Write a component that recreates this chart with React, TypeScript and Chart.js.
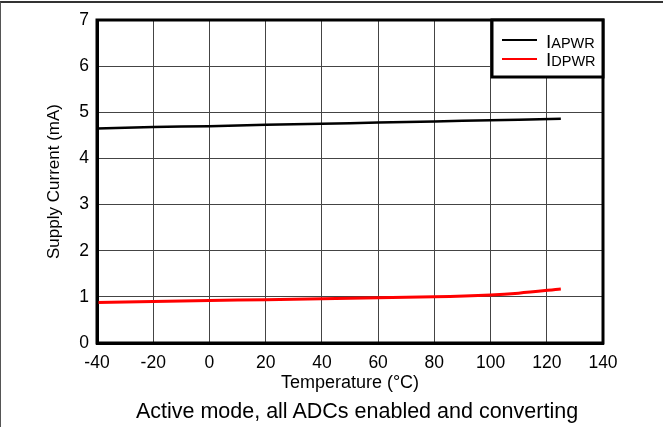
import React, { useEffect, useRef } from "react";
import { Chart, registerables } from "chart.js";

Chart.register(...registerables);

const temperatures = [-40, -20, 0, 20, 40, 60, 80, 100, 110, 125];
const iApwr = [4.65, 4.68, 4.7, 4.73, 4.75, 4.78, 4.8, 4.83, 4.84, 4.86];
const iDpwr = [0.88, 0.9, 0.92, 0.94, 0.96, 0.98, 1.0, 1.04, 1.08, 1.17];
const seriesMain = ["I", "I"];
const seriesSub = ["APWR", "DPWR"];
const seriesColors = ["#000000", "#ff0000"];
const xTitle = "Temperature (°C)";
const yTitle = "Supply Current (mA)";
const caption = "Active mode, all ADCs enabled and converting";

const FONT = "'Liberation Sans', Arial, sans-serif";

const framePlugin = {
  id: "frameAndLegend",
  afterDraw(chart: any) {
    const { ctx, chartArea } = chart;
    const { left, top, right, bottom } = chartArea;
    ctx.save();
    ctx.strokeStyle = "#000";
    ctx.lineWidth = 3;
    ctx.strokeRect(left, top, right - left, bottom - top);
    const bx = right - 111;
    const by = top;
    const bw = 111;
    const bh = 57;
    ctx.fillStyle = "#fff";
    ctx.fillRect(bx, by, bw, bh);
    ctx.strokeRect(bx, by, bw, bh);
    const rowLineY = [top + 20, top + 39];
    const rowBase = [top + 28, top + 46];
    for (let i = 0; i < seriesMain.length; i++) {
      ctx.strokeStyle = seriesColors[i];
      ctx.lineWidth = 2;
      ctx.beginPath();
      ctx.moveTo(right - 101, rowLineY[i]);
      ctx.lineTo(right - 66, rowLineY[i]);
      ctx.stroke();
      ctx.fillStyle = "#000";
      ctx.textBaseline = "alphabetic";
      ctx.textAlign = "left";
      ctx.font = `19px ${FONT}`;
      const tx = right - 57;
      ctx.fillText(seriesMain[i], tx, rowBase[i]);
      const w = ctx.measureText(seriesMain[i]).width;
      ctx.font = `14.5px ${FONT}`;
      ctx.fillText(seriesSub[i], tx + w, rowBase[i]);
    }
    ctx.restore();
  },
};

export default function App() {
  const ref = useRef<HTMLCanvasElement | null>(null);
  useEffect(() => {
    if (!ref.current) return;
    const chart = new Chart(ref.current, {
      type: "line",
      data: {
        datasets: [
          {
            label: seriesMain[0] + seriesSub[0],
            data: temperatures.map((t, i) => ({ x: t, y: iApwr[i] })),
            borderColor: seriesColors[0],
            borderWidth: 2.5,
            pointRadius: 0,
            tension: 0.3,
            fill: false,
          },
          {
            label: seriesMain[1] + seriesSub[1],
            data: temperatures.map((t, i) => ({ x: t, y: iDpwr[i] })),
            borderColor: seriesColors[1],
            borderWidth: 3,
            pointRadius: 0,
            tension: 0.3,
            fill: false,
          },
        ],
      },
      options: {
        responsive: false,
        animation: false,
        events: [],
        layout: { padding: { top: 20, right: 60, bottom: 0, left: 0 } },
        plugins: {
          legend: { display: false },
          tooltip: { enabled: false },
        },
        scales: {
          x: {
            type: "linear",
            min: -40,
            max: 140,
            ticks: {
              stepSize: 20,
              color: "#000",
              padding: 10,
              font: { family: FONT, size: 17.5 },
            },
            grid: { color: "#444", lineWidth: 1, drawTicks: false },
            border: { display: true, color: "#000", width: 3 },
            title: {
              display: true,
              text: xTitle,
              color: "#000",
              font: { family: FONT, size: 18 },
              padding: { top: 0, bottom: 33 },
            },
            afterFit: (s: any) => {
              s.height = 84;
            },
          },
          y: {
            type: "linear",
            min: 0,
            max: 7,
            ticks: {
              stepSize: 1,
              color: "#000",
              padding: 8,
              font: { family: FONT, size: 17.5 },
            },
            grid: { color: "#444", lineWidth: 1, drawTicks: false },
            border: { display: true, color: "#000", width: 3 },
            title: {
              display: true,
              text: yTitle,
              color: "#000",
              font: { family: FONT, size: 17 },
              padding: { top: 44, bottom: 0 },
            },
            afterFit: (s: any) => {
              s.width = 97;
            },
          },
        },
      } as any,
      plugins: [framePlugin],
    });
    return () => chart.destroy();
  }, []);

  return (
    <div
      style={{
        position: "absolute",
        top: 0,
        left: 0,
        width: 663,
        height: 427,
        background: "#fff",
        overflow: "hidden",
      }}
    >
      <canvas ref={ref} width={663} height={427} style={{ display: "block" }} />
      <div
        style={{
          position: "absolute",
          top: 1,
          left: 0,
          width: 663,
          height: 426,
          borderTop: "2px solid #333",
          borderLeft: "1px solid #555",
          boxSizing: "border-box",
          pointerEvents: "none",
        }}
      />
      <div
        style={{
          position: "absolute",
          left: 0,
          width: 714,
          top: 398,
          textAlign: "center",
          fontFamily: FONT,
          fontSize: 21.5,
          lineHeight: "26px",
          color: "#000",
          whiteSpace: "nowrap",
        }}
      >
        {caption}
      </div>
    </div>
  );
}
